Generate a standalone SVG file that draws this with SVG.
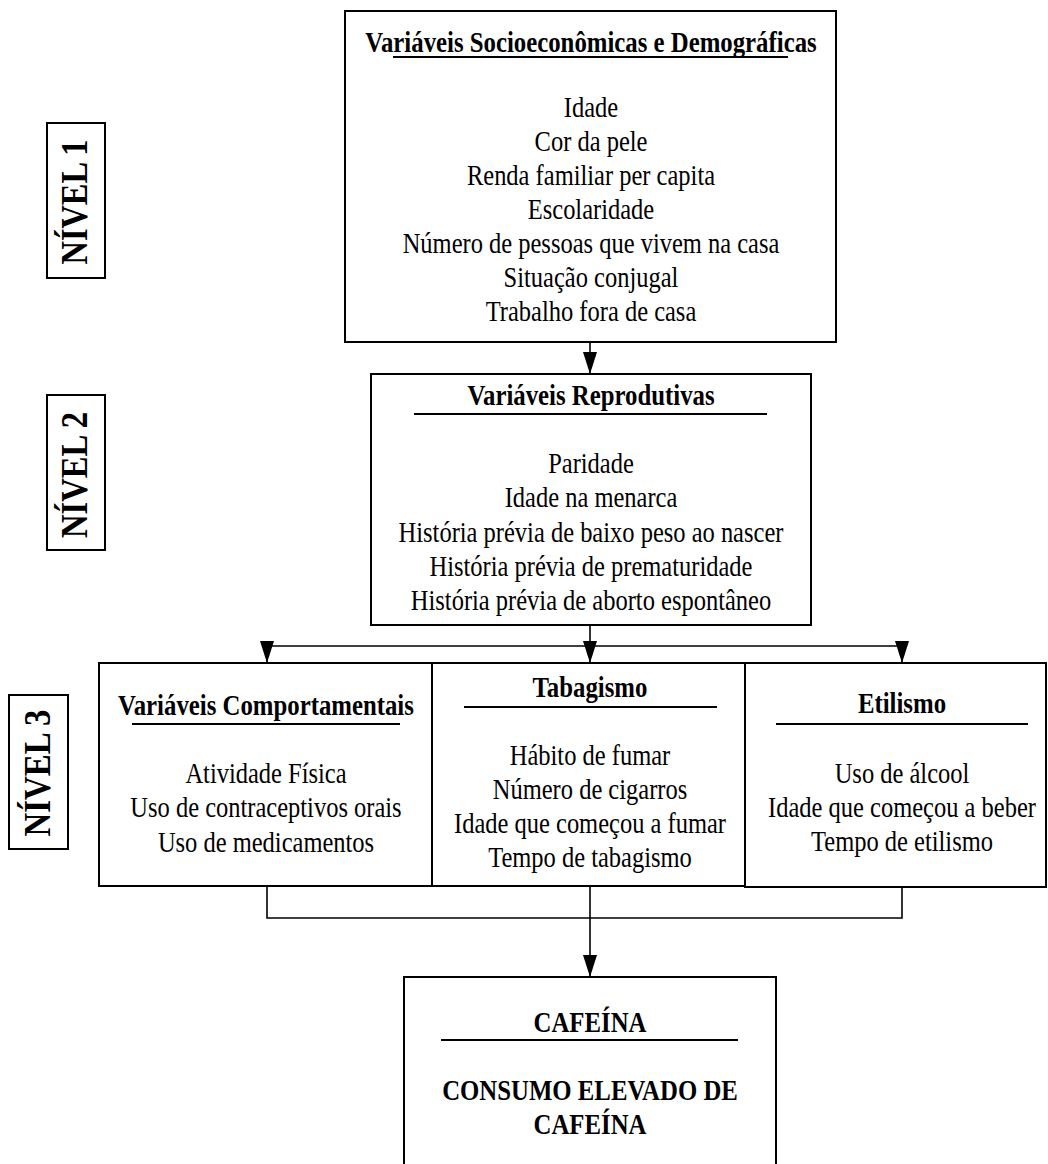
<svg xmlns="http://www.w3.org/2000/svg" width="1048" height="1164" viewBox="0 0 1048 1164">
  <style>
    .box { fill: #fff; stroke: #000; stroke-width: 2; }
    .rule { stroke: #000; stroke-width: 2; }
    .wire { fill: none; stroke: #000; stroke-width: 1.6; }
    .t { font-family: "Liberation Serif", "Times New Roman", serif; font-size: 24.5px; fill: #000; text-anchor: middle; }
    .b { font-weight: bold; font-size: 24.8px; }
    .lvl { font-family: "Liberation Serif", "Times New Roman", serif; font-size: 37px; font-weight: bold; fill: #000; text-anchor: middle; }
  </style>
  <defs>
    <marker id="head" viewBox="0 0 22 14" refX="22" refY="7" markerWidth="22" markerHeight="14" markerUnits="userSpaceOnUse" orient="auto">
      <path d="M0,0 L22,7 L0,14 z" fill="#000"/>
    </marker>
  </defs>
  <rect width="1048" height="1164" fill="#fff"/>

  <!-- level labels -->
  <g id="nivel1">
    <rect class="box" x="47" y="123" width="58" height="155"/>
    <text class="lvl" transform="translate(87 202) rotate(-90)" textLength="125" lengthAdjust="spacingAndGlyphs">NÍVEL 1</text>
  </g>
  <g id="nivel2">
    <rect class="box" x="47" y="395" width="58" height="155"/>
    <text class="lvl" transform="translate(87 475) rotate(-90)" textLength="126" lengthAdjust="spacingAndGlyphs">NÍVEL 2</text>
  </g>
  <g id="nivel3">
    <rect class="box" x="9" y="695" width="59" height="154"/>
    <text class="lvl" transform="translate(50 773) rotate(-90)" textLength="127" lengthAdjust="spacingAndGlyphs">NÍVEL 3</text>
  </g>

  <!-- connectors -->
  <g id="connectors">
    <path class="wire" d="M590,342 V374" marker-end="url(#head)"/>
    <path class="wire" d="M590,625 V663" marker-end="url(#head)"/>
    <path class="wire" d="M267,646 H902"/>
    <path class="wire" d="M267,646 V663" marker-end="url(#head)"/>
    <path class="wire" d="M902,646 V663" marker-end="url(#head)"/>
    <path class="wire" d="M267,886 V918 H902 V887"/>
    <path class="wire" d="M590,886 V918"/>
    <path class="wire" d="M590,918 V977" stroke-width="2.2" marker-end="url(#head)"/>
  </g>

  <!-- socioeconomic -->
  <g id="socio">
    <rect class="box" x="345" y="11" width="491" height="331"/>
    <text class="t b" transform="translate(591 52) scale(1 1.18)">Variáveis Socioeconômicas e Demográficas</text>
    <line class="rule" x1="393" y1="57" x2="788" y2="57"/>
    <text class="t" transform="translate(591 117) scale(1 1.16)">Idade</text>
    <text class="t" transform="translate(591 151) scale(1 1.16)">Cor da pele</text>
    <text class="t" transform="translate(591 185) scale(1 1.16)">Renda familiar per capita</text>
    <text class="t" transform="translate(591 219) scale(1 1.16)">Escolaridade</text>
    <text class="t" transform="translate(591 253) scale(1 1.16)">Número de pessoas que vivem na casa</text>
    <text class="t" transform="translate(591 287) scale(1 1.16)">Situação conjugal</text>
    <text class="t" transform="translate(591 321) scale(1 1.16)">Trabalho fora de casa</text>
  </g>

  <!-- reproductive -->
  <g id="reprod">
    <rect class="box" x="371" y="374" width="440" height="251"/>
    <text class="t b" transform="translate(591 405) scale(1 1.18)">Variáveis Reprodutivas</text>
    <line class="rule" x1="414" y1="414" x2="767" y2="414"/>
    <text class="t" transform="translate(591 473) scale(1 1.16)">Paridade</text>
    <text class="t" transform="translate(591 507) scale(1 1.16)">Idade na menarca</text>
    <text class="t" transform="translate(591 542) scale(1 1.16)">História prévia de baixo peso ao nascer</text>
    <text class="t" transform="translate(591 576) scale(1 1.16)">História prévia de prematuridade</text>
    <text class="t" transform="translate(591 610) scale(1 1.16)">História prévia de aborto espontâneo</text>
  </g>

  <!-- behavioural -->
  <g id="comport">
    <rect class="box" x="99" y="663" width="333" height="223"/>
    <text class="t b" transform="translate(266 715) scale(1 1.18)">Variáveis Comportamentais</text>
    <line class="rule" x1="132" y1="724" x2="400" y2="724"/>
    <text class="t" transform="translate(266 783) scale(1 1.16)">Atividade Física</text>
    <text class="t" transform="translate(266 817) scale(1 1.16)">Uso de contraceptivos orais</text>
    <text class="t" transform="translate(266 852) scale(1 1.16)">Uso de medicamentos</text>
  </g>

  <!-- smoking -->
  <g id="tabagismo">
    <rect class="box" x="432" y="663" width="313" height="223"/>
    <text class="t b" transform="translate(590 697) scale(1 1.18)">Tabagismo</text>
    <line class="rule" x1="464" y1="707" x2="717" y2="707"/>
    <text class="t" transform="translate(590 765) scale(1 1.16)">Hábito de fumar</text>
    <text class="t" transform="translate(590 799) scale(1 1.16)">Número de cigarros</text>
    <text class="t" transform="translate(590 833) scale(1 1.16)">Idade que começou a fumar</text>
    <text class="t" transform="translate(590 867) scale(1 1.16)">Tempo de tabagismo</text>
  </g>

  <!-- alcohol -->
  <g id="etilismo">
    <rect class="box" x="745" y="663" width="301" height="224"/>
    <text class="t b" transform="translate(902 713) scale(1 1.18)">Etilismo</text>
    <line class="rule" x1="776" y1="724" x2="1028" y2="724"/>
    <text class="t" transform="translate(902 783) scale(1 1.16)">Uso de álcool</text>
    <text class="t" transform="translate(902 817) scale(1 1.16)">Idade que começou a beber</text>
    <text class="t" transform="translate(902 851) scale(1 1.16)">Tempo de etilismo</text>
  </g>

  <!-- outcome -->
  <g id="cafeina">
    <rect class="box" x="404" y="977" width="372" height="220"/>
    <text class="t b" transform="translate(590 1032) scale(1 1.18)">CAFEÍNA</text>
    <line class="rule" x1="441" y1="1040" x2="738" y2="1040"/>
    <text class="t b" transform="translate(590 1100) scale(1 1.18)">CONSUMO ELEVADO DE</text>
    <text class="t b" transform="translate(590 1134) scale(1 1.18)">CAFEÍNA</text>
  </g>
</svg>
